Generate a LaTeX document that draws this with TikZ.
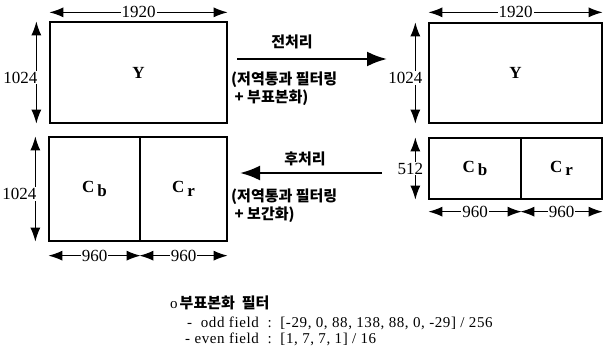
\documentclass[tikz,border=0pt]{standalone}
\usepackage{fontspec}
\setmainfont{Liberation Serif}
\newfontfamily\kr{Noto Sans CJK KR}
\usetikzlibrary{arrows.meta}

\newcommand{\chroma}[2]{#1\raisebox{-0.45ex}{\,#2}}

\tikzset{
  plane/.style={draw, line width=1.3pt, inner sep=0pt, font=\fontsize{17}{17}\selectfont\bfseries},
  dim/.style={{Latex[length=14pt,width=10pt]}-{Latex[length=14pt,width=10pt]}, line width=1.2pt},
  dimlab/.style={fill=white, inner sep=1pt, font=\fontsize{17}{17}\selectfont},
  flow/.style={-{Latex[length=20pt,width=15pt]}, line width=2.4pt},
  krlab/.style={font=\kr\bfseries\fontsize{15}{18}\selectfont, align=left, inner sep=0pt},
  note/.style={anchor=west, inner sep=0pt, font=\addfontfeatures{LetterSpace=4}\fontsize{15}{15}\selectfont},
}

\begin{document}
\begin{tikzpicture}[x=1pt, y=-1pt]
    \useasboundingbox (0,0) rectangle (604,353);

    % left frame 1920 x 1024
    \node[plane, minimum width=177pt, minimum height=101pt] (yL) at (138.5,72.5) {Y};
    \node[plane, minimum width=91pt, minimum height=104pt] (cbL) at (94.5,189) {\chroma{C}{b}};
    \node[plane, minimum width=87pt, minimum height=104pt] (crL) at (183.5,189) {\chroma{C}{r}};

    \draw[dim] ([yshift=9pt]yL.north west) -- ([yshift=9pt]yL.north east)
        node[dimlab, midway] {1920};
    \draw[dim] ([xshift=-13pt]yL.north west) -- ([xshift=-13pt]yL.south west)
        node[dimlab, midway, xshift=-16pt, yshift=-5pt] {1024};
    \draw[dim] ([xshift=-13pt]cbL.north west) -- ([xshift=-13pt]cbL.south west)
        node[dimlab, midway, xshift=-16pt, yshift=-5pt] {1024};
    \draw[dim] ([yshift=-14pt]cbL.south west) -- ([yshift=-14pt]cbL.south east)
        node[dimlab, midway] {960};
    \draw[dim] ([yshift=-14pt]crL.south west) -- ([yshift=-14pt]crL.south east)
        node[dimlab, midway] {960};

    % right frame 1920 x 1024 + 960 x 512
    \node[plane, minimum width=173pt, minimum height=100pt] (yR) at (515.5,73) {Y};
    \node[plane, minimum width=92pt, minimum height=61pt] (cbR) at (475,168.5) {\raisebox{4pt}{\chroma{C}{b}}};
    \node[plane, minimum width=81pt, minimum height=61pt] (crR) at (561.5,168.5) {\raisebox{4pt}{\chroma{C}{r}}};

    \draw[dim] ([yshift=10pt]yR.north west) -- ([yshift=10pt]yR.north east)
        node[dimlab, midway] {1920};
    \draw[dim] ([xshift=-13pt]yR.north west) -- ([xshift=-13pt]yR.south west)
        node[dimlab, midway, xshift=-10pt, yshift=-5pt] {1024};
    \draw[dim] ([xshift=-13pt]cbR.north west) -- ([xshift=-13pt]cbR.south west)
        node[dimlab, midway, xshift=-5pt] {512};
    \draw[dim] ([yshift=-12pt]cbR.south west) -- ([yshift=-12pt]cbR.south east)
        node[dimlab, midway] {960};
    \draw[dim] ([yshift=-12pt]crR.south west) -- ([yshift=-12pt]crR.south east)
        node[dimlab, midway] {960};

    % pre / post processing
    \coordinate (preS) at (237,59);
    \coordinate (preE) at (387,59);
    \coordinate (postS) at (382,173);
    \coordinate (postE) at (240,173);
    \draw[flow] (preS) -- (preE);
    \draw[flow] (postS) -- (postE);
    \node[krlab] (preHead) at (292,42) {전처리};
    \node[krlab, anchor=north west] (preNote) at (231,72) {(저역통과 필터링\\\ + 부표본화)};
    \node[krlab] (postHead) at (305,159) {후처리};
    \node[krlab, anchor=north west] (postNote) at (231,189) {(저역통과 필터링\\\ + 보간화)};

    % filter coefficients
    \node[note] (filtHead) at (170,303) {o\kern2pt{\kr\bfseries\fontsize{15}{15}\selectfont 부표본화\ \ 필터}};
    \node[note] (oddLine) at (187,323) {-\ \ odd field\ \ :\ \ [-29, 0, 88, 138, 88, 0, -29] / 256};
    \node[note] (evenLine) at (185,339) {- even field\ \ :\ \ [1, 7, 7, 1] / 16};
\end{tikzpicture}
\end{document}
